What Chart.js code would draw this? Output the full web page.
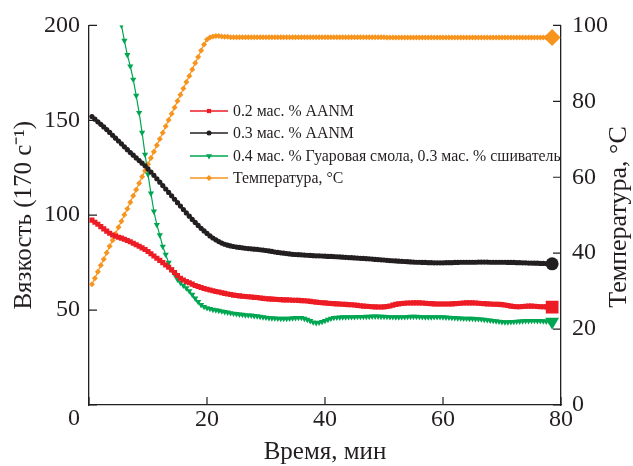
<!DOCTYPE html>
<html>
<head>
<meta charset="utf-8">
<script src="https://cdn.jsdelivr.net/npm/chart.js@4/dist/chart.umd.min.js"></script>
<style>
  html, body { margin: 0; padding: 0; background: #ffffff; }
  #wrap { width: 633px; height: 466px; }
</style>
</head>
<body>
<div id="wrap"><canvas id="c" width="633" height="466"></canvas></div>
<script>
// ---- data ----
const time = [
  0.5,1,1.5,2,2.5,3,3.5,4,4.5,5,
  5.5,6,6.5,7,7.5,8,8.5,9,9.5,10,
  10.5,11,11.5,12,12.5,13,13.5,14,14.5,15,
  15.5,16,16.5,17,17.5,18,18.5,19,19.5,20,
  20.5,21,21.5,22,22.5,23,23.5,24,24.5,25,
  25.5,26,26.5,27,27.5,28,28.5,29,29.5,30,
  30.5,31,31.5,32,32.5,33,33.5,34,34.5,35,
  35.5,36,36.5,37,37.5,38,38.5,39,39.5,40,
  40.5,41,41.5,42,42.5,43,43.5,44,44.5,45,
  45.5,46,46.5,47,47.5,48,48.5,49,49.5,50,
  50.5,51,51.5,52,52.5,53,53.5,54,54.5,55,
  55.5,56,56.5,57,57.5,58,58.5,59,59.5,60,
  60.5,61,61.5,62,62.5,63,63.5,64,64.5,65,
  65.5,66,66.5,67,67.5,68,68.5,69,69.5,70,
  70.5,71,71.5,72,72.5,73,73.5,74,74.5,75,
  75.5,76,76.5,77,77.5,78,78.5
];

const visc02AANM = [
  97.4,96.3,95.2,94.0,92.8,91.6,90.5,89.6,88.9,88.4,
  87.9,87.3,86.7,86.0,85.2,84.4,83.6,82.8,81.9,80.9,
  79.7,78.5,77.3,76.2,75.0,73.8,72.6,71.2,69.8,68.2,
  66.8,65.9,65.1,64.4,63.7,63.0,62.4,61.9,61.4,61.0,
  60.6,60.2,59.8,59.5,59.1,58.8,58.5,58.2,57.9,57.7,
  57.5,57.3,57.2,57.0,56.9,56.7,56.6,56.4,56.2,56.0,
  55.9,55.8,55.7,55.6,55.5,55.4,55.4,55.3,55.2,55.2,
  55.1,55.0,54.9,54.8,54.6,54.4,54.2,54.0,53.9,53.8,
  53.6,53.5,53.4,53.3,53.2,53.1,53.0,52.9,52.8,52.7,
  52.5,52.3,52.1,52.0,51.9,51.8,51.7,51.6,51.6,51.7,
  51.9,52.2,52.6,53.0,53.3,53.5,53.6,53.7,53.7,53.8,
  53.8,53.8,53.7,53.6,53.5,53.4,53.3,53.2,53.2,53.2,
  53.2,53.2,53.3,53.4,53.5,53.6,53.7,53.8,53.8,53.8,
  53.7,53.6,53.5,53.4,53.3,53.2,53.1,53.1,53.0,52.9,
  52.7,52.4,52.1,51.9,51.8,51.8,51.9,52.0,52.1,52.1,
  52.0,51.9,51.8,51.8,51.7,51.7,51.6
];

const visc03AANM = [
  152.0,150.6,149.2,147.9,146.5,145.1,143.6,142.1,140.6,139.1,
  137.6,136.0,134.5,133.0,131.6,130.2,128.8,127.4,126.0,124.4,
  122.7,121.0,119.2,117.4,115.6,113.8,112.0,110.2,108.4,106.6,
  104.8,103.0,101.2,99.5,97.8,96.2,94.6,93.1,91.7,90.4,
  89.1,88.0,87.0,86.1,85.3,84.7,84.2,83.8,83.5,83.2,
  83.0,82.8,82.6,82.4,82.3,82.1,82.0,81.8,81.6,81.4,
  81.2,80.9,80.6,80.4,80.2,80.0,79.8,79.6,79.4,79.3,
  79.2,79.1,79.0,78.9,78.8,78.7,78.6,78.6,78.5,78.4,
  78.3,78.3,78.2,78.1,78.0,77.9,77.8,77.7,77.6,77.5,
  77.4,77.3,77.2,77.1,77.0,76.9,76.7,76.6,76.5,76.4,
  76.2,76.1,76.0,75.9,75.8,75.7,75.6,75.5,75.4,75.3,
  75.2,75.2,75.1,75.1,75.0,75.0,74.9,74.9,74.9,74.9,
  75.0,75.0,75.0,75.1,75.1,75.2,75.2,75.2,75.2,75.2,
  75.2,75.3,75.3,75.3,75.3,75.2,75.2,75.2,75.2,75.2,
  75.2,75.1,75.1,75.1,75.0,75.0,74.9,74.9,74.8,74.8,
  74.7,74.7,74.6,74.6,74.5,74.5,74.4
];

const viscGuar = [
  null,null,null,null,null,null,null,null,null,null,
  200.0,192.0,184.5,178.5,171.5,163.0,154.0,143.5,132.0,121.5,
  111.5,102.0,95.0,89.5,83.5,79.3,75.0,71.5,68.8,66.2,
  64.5,63.0,61.6,60.1,58.2,56.2,54.4,52.8,51.8,51.1,
  50.7,50.3,50.0,49.7,49.4,49.1,48.8,48.5,48.2,48.0,
  47.8,47.6,47.4,47.3,47.2,47.0,46.8,46.6,46.3,46.1,
  45.9,45.8,45.7,45.6,45.5,45.5,45.5,45.6,45.8,45.9,
  46.0,46.0,45.5,45.0,44.3,43.6,43.3,43.5,43.9,44.4,
  45.0,45.6,46.0,46.1,46.2,46.3,46.3,46.4,46.4,46.4,
  46.5,46.5,46.5,46.6,46.6,46.7,46.7,46.7,46.6,46.6,
  46.5,46.4,46.4,46.3,46.3,46.4,46.4,46.5,46.6,46.6,
  46.6,46.5,46.4,46.3,46.3,46.3,46.4,46.4,46.4,46.3,
  46.2,46.1,46.0,45.9,45.8,45.7,45.6,45.6,45.5,45.5,
  45.4,45.3,45.2,45.0,44.8,44.6,44.4,44.2,44.0,43.8,
  43.7,43.7,43.8,43.9,44.0,44.1,44.2,44.3,44.3,44.4,
  44.4,44.3,44.3,44.2,44.1,44.0,43.8
];

const temperature = [
  31.8,33.4,35.1,36.8,38.4,40.1,41.8,43.4,45.1,46.8,
  48.4,50.1,51.7,53.4,55.1,56.7,58.4,60.1,61.7,63.4,
  65.1,66.7,68.4,70.1,71.7,73.4,75.1,76.7,78.4,80.1,
  81.7,83.4,85.1,86.7,88.4,90.1,91.7,93.4,95.0,96.3,
  96.8,97.1,97.2,97.2,97.1,97.0,97.0,96.9,96.9,96.9,
  96.9,96.9,96.9,96.9,96.9,96.9,96.9,96.9,96.9,96.9,
  96.9,96.9,96.9,96.9,96.9,96.9,96.9,96.9,96.9,96.9,
  96.9,96.9,96.9,96.9,96.9,96.9,96.9,96.9,96.9,96.9,
  96.9,96.9,96.9,96.9,96.9,96.9,96.9,96.9,96.9,96.9,
  96.9,96.9,96.9,96.9,96.9,96.9,96.9,96.9,96.9,96.9,
  96.8,96.8,96.8,96.8,96.8,96.8,96.8,96.8,96.8,96.8,
  96.8,96.8,96.8,96.8,96.8,96.8,96.8,96.8,96.8,96.8,
  96.8,96.8,96.8,96.8,96.8,96.8,96.8,96.8,96.8,96.8,
  96.8,96.8,96.8,96.8,96.8,96.8,96.8,96.8,96.8,96.8,
  96.8,96.8,96.8,96.8,96.8,96.8,96.8,96.8,96.8,96.8,
  96.8,96.8,96.8,96.8,96.8,96.8,96.8
];

const seriesLabels = [
  '0.2 мас. % AANM',
  '0.3 мас. % AANM',
  '0.4 мас. % Гуаровая смола, 0.3 мас. % сшиватель',
  'Температура, °C'
];
const xTicks = [0, 20, 40, 60, 80];
const yLeftTicks = [0, 50, 100, 150, 200];
const yRightTicks = [0, 20, 40, 60, 80, 100];
const xTitle = 'Время, мин';
const yLeftTitle = 'Вязкость (170 с⁻¹)';
const yRightTitle = 'Температура, °C';

// ---- styling ----
const FONT = "'Liberation Serif', 'Times New Roman', serif";
const INK = '#231f20';
const RED = '#ed1c24', BLACK = '#231f20', GREEN = '#00a651', ORANGE = '#f7941d';

function pts(vals) { return time.map((t, i) => ({ x: t, y: vals[i] })); }
function endRadius(small, big) {
  return ctx => (ctx.dataIndex === time.length - 1 ? big : small);
}

const datasets = [
  { label: seriesLabels[0], data: pts(visc02AANM), yAxisID: 'y',
    borderColor: RED, backgroundColor: RED, borderWidth: 1.2,
    pointStyle: 'rect', pointRadius: endRadius(3.6, 9), pointBorderWidth: 0,
    legendRadius: 3 },
  { label: seriesLabels[1], data: pts(visc03AANM), yAxisID: 'y',
    borderColor: BLACK, backgroundColor: BLACK, borderWidth: 1.2,
    pointStyle: 'circle', pointRadius: endRadius(2.6, 6.5), pointBorderWidth: 0,
    legendRadius: 2.5 },
  { label: seriesLabels[2], data: pts(viscGuar), yAxisID: 'y',
    borderColor: GREEN, backgroundColor: GREEN, borderWidth: 1.2,
    pointStyle: 'triangle', pointRotation: 180, pointRadius: endRadius(3.6, 8), pointBorderWidth: 0,
    legendRadius: 3.5 },
  { label: seriesLabels[3], data: pts(temperature), yAxisID: 'y1',
    borderColor: ORANGE, backgroundColor: ORANGE, borderWidth: 1.2,
    pointStyle: 'rectRot', pointRadius: endRadius(3, 8.5), pointBorderWidth: 0,
    legendRadius: 3 }
];

const overlay = {
  id: 'overlay',
  afterDraw(chart) {
    const ctx = chart.ctx;
    const sx = chart.scales.x, sy = chart.scales.y, sr = chart.scales.y1;
    const area = chart.chartArea;
    ctx.save();
    // inward tick marks
    ctx.strokeStyle = INK;
    ctx.lineWidth = 1.2;
    ctx.beginPath();
    xTicks.forEach(v => { const p = sx.getPixelForValue(v); ctx.moveTo(p, area.bottom); ctx.lineTo(p, area.bottom - 8); });
    yLeftTicks.forEach(v => { const p = sy.getPixelForValue(v); ctx.moveTo(area.left, p); ctx.lineTo(area.left + 8, p); });
    yRightTicks.forEach(v => { const p = sr.getPixelForValue(v); ctx.moveTo(area.right, p); ctx.lineTo(area.right - 8, p); });
    ctx.stroke();
    // shared origin label
    ctx.fillStyle = INK;
    ctx.font = '24px ' + FONT;
    ctx.textAlign = 'right';
    ctx.textBaseline = 'middle';
    ctx.fillText('0', 80, 419);
    // right axis title (reads bottom-to-top)
    ctx.save();
    ctx.translate(619, 217);
    ctx.rotate(-Math.PI / 2);
    ctx.font = '26px ' + FONT;
    ctx.textAlign = 'center';
    ctx.textBaseline = 'middle';
    ctx.fillText(yRightTitle, 0, 0);
    ctx.restore();
    // legend
    const rows = [111, 133, 156, 178];
    chart.data.datasets.forEach((ds, i) => {
      const y = rows[i];
      ctx.strokeStyle = ds.borderColor;
      ctx.fillStyle = ds.borderColor;
      ctx.lineWidth = 1.3;
      ctx.beginPath();
      ctx.moveTo(190, y);
      ctx.lineTo(228, y);
      ctx.stroke();
      Chart.helpers.drawPoint(ctx, {
        pointStyle: ds.pointStyle, radius: ds.legendRadius,
        rotation: ds.pointRotation || 0, borderWidth: 0
      }, 209, y);
      ctx.fillStyle = INK;
      ctx.font = '15.8px ' + FONT;
      ctx.textAlign = 'left';
      ctx.textBaseline = 'middle';
      ctx.fillText(ds.label, 233, y + 0.5);
    });
    ctx.restore();
  }
};

new Chart(document.getElementById('c'), {
  type: 'line',
  data: { datasets },
  options: {
    responsive: false,
    animation: false,
    devicePixelRatio: 1,
    layout: { padding: { top: 25, right: 0, bottom: 0, left: 0 } },
    plugins: { legend: { display: false }, tooltip: { enabled: false } },
    elements: { line: { tension: 0 } },
    scales: {
      x: {
        type: 'linear', min: 0, max: 80,
        afterBuildTicks: s => { s.ticks = xTicks.map(v => ({ value: v })); },
        afterFit: s => { s.height = 61; },
        border: { display: true, color: INK, width: 1.3 },
        grid: { drawOnChartArea: false, drawTicks: false },
        ticks: { color: INK, font: { family: FONT, size: 24 }, padding: 0,
                 maxRotation: 0, callback: v => (v === 0 ? '' : String(v)) },
        title: { display: true, text: xTitle, color: INK,
                 font: { family: FONT, size: 25, lineHeight: 1 }, padding: { top: 0, bottom: 1 } }
      },
      y: {
        type: 'linear', position: 'left', min: 0, max: 200,
        afterBuildTicks: s => { s.ticks = yLeftTicks.map(v => ({ value: v })); },
        afterFit: s => { s.width = 89; },
        border: { display: true, color: INK, width: 1.3 },
        grid: { drawOnChartArea: false, drawTicks: false },
        ticks: { color: INK, font: { family: FONT, size: 24 }, padding: 9,
                 callback: v => (v === 0 ? '' : String(v)) },
        title: { display: true, text: yLeftTitle, color: INK,
                 font: { family: FONT, size: 25 }, padding: { top: 9, bottom: 0 } }
      },
      y1: {
        type: 'linear', position: 'right', min: 0, max: 100,
        afterBuildTicks: s => { s.ticks = yRightTicks.map(v => ({ value: v })); },
        afterFit: s => { s.width = 72; },
        border: { display: true, color: INK, width: 1.3 },
        grid: { drawOnChartArea: false, drawTicks: false },
        ticks: { color: INK, font: { family: FONT, size: 24 }, padding: 11 },
        title: { display: false }
      }
    }
  },
  plugins: [overlay]
});
</script>
</body>
</html>
